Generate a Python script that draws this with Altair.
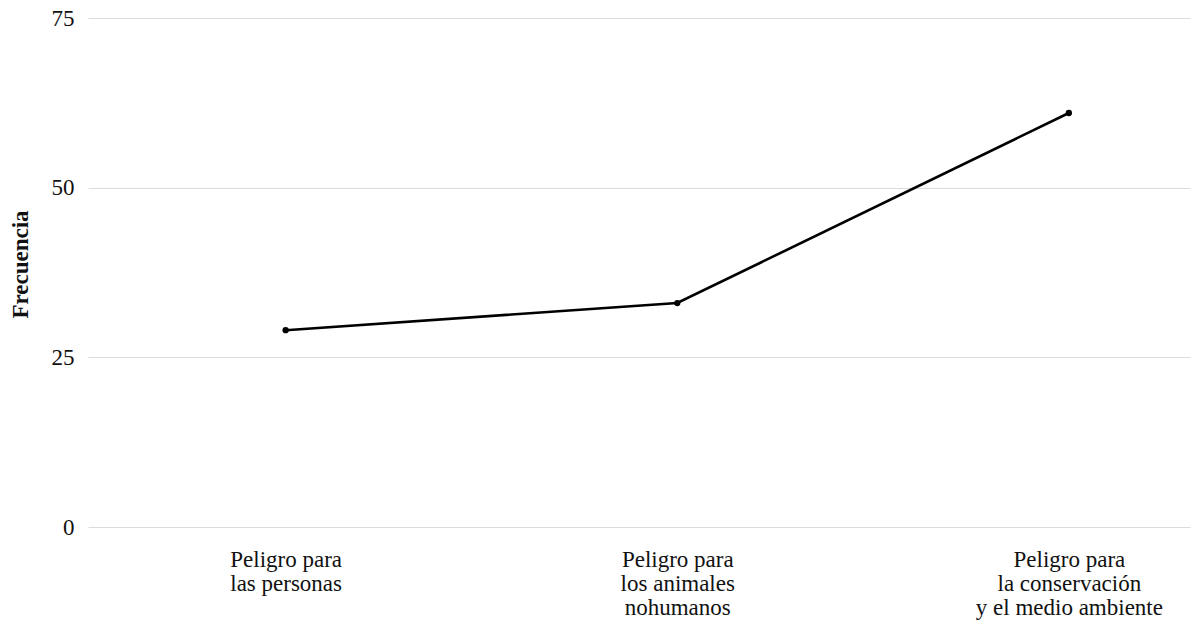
import altair as alt
import pandas as pd

# Categories (line breaks marked with "|") and their frequencies
categorias = [
    "Peligro para|las personas",
    "Peligro para|los animales|nohumanos",
    "Peligro para|la conservación|y el medio ambiente",
]
frecuencia = [29, 33, 61]
y_ticks = [0, 25, 50, 75]

df = pd.DataFrame({"categoria": categorias, "frecuencia": frecuencia})

FONT = "Liberation Serif"
TEXT_COLOR = "#111111"

x_enc = alt.X(
    "categoria:N",
    sort=categorias,
    scale=alt.Scale(type="point", padding=0.407, align=0.62),
    axis=alt.Axis(
        title=None,
        labelAngle=0,
        labelExpr="split(datum.label, '|')",
        labelFont=FONT,
        labelFontSize=23,
        labelLineHeight=24,
        labelColor=TEXT_COLOR,
        labelPadding=21,
        labelAlign="center",
        labelLimit=400,
        labelOverlap=False,
        domain=False,
        ticks=False,
        grid=False,
    ),
)

y_enc = alt.Y(
    "frecuencia:Q",
    scale=alt.Scale(domain=[0, 75], nice=False, zero=True),
    axis=alt.Axis(
        title="Frecuencia",
        titleFont=FONT,
        titleFontSize=23,
        titleFontWeight="bold",
        titleColor=TEXT_COLOR,
        titleAngle=-90,
        titleAlign="center",
        titleBaseline="alphabetic",
        titleX=-61,
        titleY=246,
        values=y_ticks,
        labelFont=FONT,
        labelFontSize=23,
        labelColor=TEXT_COLOR,
        labelPadding=14,
        domain=False,
        ticks=False,
        grid=True,
        gridColor="#dcdcdc",
        gridWidth=1,
    ),
)

base = alt.Chart(df).encode(x=x_enc, y=y_enc)

linea = base.mark_line(color="black", strokeWidth=2.6)
puntos = base.mark_point(filled=True, color="black", size=40, opacity=1)

chart = (
    alt.layer(linea, puntos)
    .properties(
        width=1102,
        height=509,
        autosize=alt.AutoSizeParams(type="none"),
        padding={"left": 88, "top": 18, "right": 4, "bottom": 101},
        background="white",
    )
    .configure_view(stroke=None)
)

chart.save("out.html", embed_options={"renderer": "svg", "actions": False})
